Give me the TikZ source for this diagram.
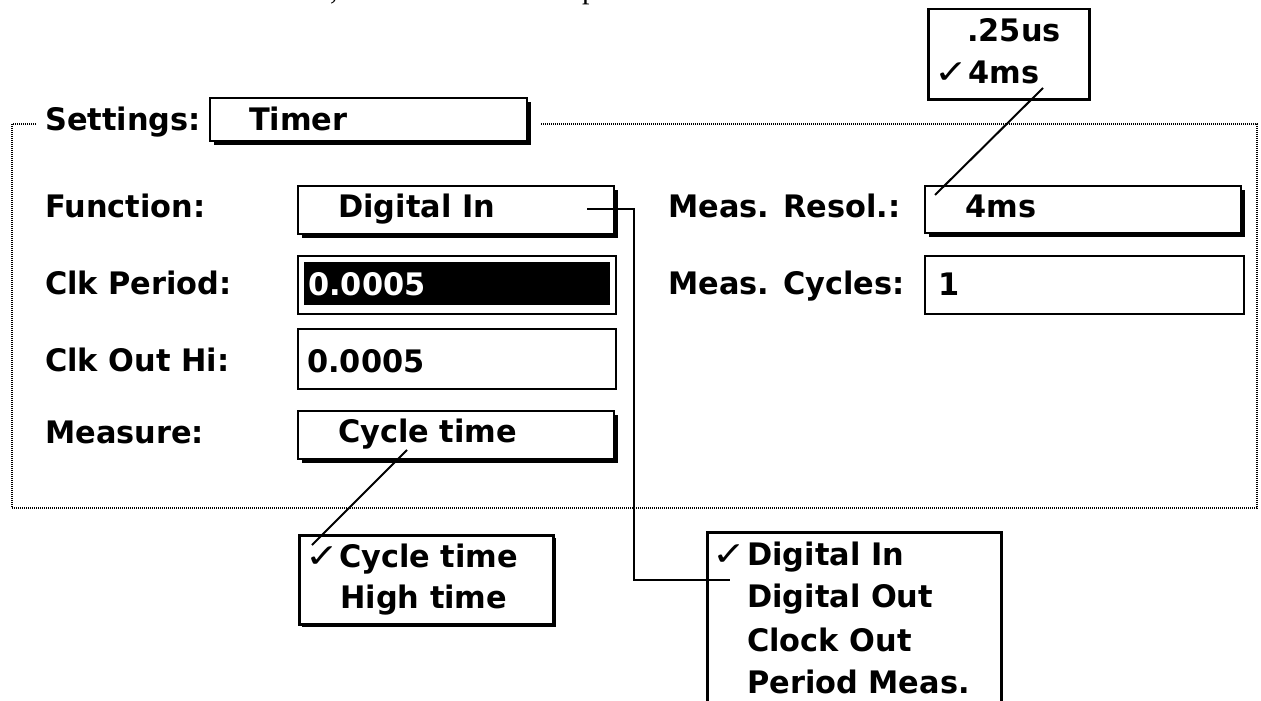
\documentclass[tikz,border=0pt]{standalone}
\usepackage{fontspec}
\usepackage{graphicx}
\usetikzlibrary{shadows}
\newfontfamily\uifont{DejaVu Sans}[FakeStretch=0.98]
\newfontfamily\chkfont{DejaVu Sans}
\newfontfamily\pagefont{Liberation Serif}
\newcommand{\tick}{\scalebox{1.35}[1.1]{✓}}

\begin{document}
\begin{tikzpicture}[x=1pt,y=-1pt,
  lbl/.style={font=\uifont\bfseries\fontsize{31}{36}\selectfont, inner sep=0pt, anchor=base west},
  chk/.style={font=\chkfont\fontsize{30}{34}\selectfont, inner sep=0pt, anchor=base west},
  btn/.style={draw, line width=2pt, fill=white, anchor=north west, inner sep=0pt,
    drop shadow={shadow xshift=3.5pt, shadow yshift=-3.5pt, opacity=1, fill=black}},
  field/.style={draw, line width=2pt, fill=white, anchor=north west, inner sep=0pt},
  menu/.style={draw, line width=2.5pt, fill=white, anchor=north west, inner sep=0pt},
  frame/.style={line width=2pt, dash pattern=on 1pt off 1pt, black},
  wire/.style={line width=2pt},
  ]
\useasboundingbox (0,0) rectangle (1261,701);

% tails of the line of body text above the figure
\node[font=\pagefont\fontsize{30}{36}\selectfont, inner sep=0pt, anchor=base west] (tailA) at (330,0) {,};
\node[font=\pagefont\fontsize{30}{36}\selectfont, inner sep=0pt, anchor=base west] (tailB) at (582,-1) {p};

% dotted group frame, open where the title sits
\draw[frame] (36,124) -- (12,124) -- (12,508) -- (1257,508) -- (1257,124) -- (540,124);

% group title
\node[lbl] (settings) at (45,130) {Settings:};
\node[btn, minimum width=317pt, minimum height=43pt] (timerbox) at (209,97) {};
\node[lbl] (timertxt) at (249,130) {Timer};

% left column
\node[lbl] (fnlbl) at (45,217) {Function:};
\node[btn, minimum width=316pt, minimum height=48pt] (fnbox) at (297,185) {};
\node[lbl] (fntxt) at (338,217) {Digital In};

\node[lbl] (cplbl) at (45,294) {Clk Period:};
\node[field, minimum width=318pt, minimum height=58pt] (cpbox) at (297,255) {};
\node[fill=black, anchor=north west, inner sep=0pt, minimum width=306pt, minimum height=43pt] (cpsel) at (304,262) {};
\node[lbl, text=white] (cptxt) at (308,295) {0.0005};

\node[lbl] (chlbl) at (45,371) {Clk Out Hi:};
\node[field, minimum width=318pt, minimum height=60pt] (chbox) at (297,328) {};
\node[lbl] (chtxt) at (307,372) {0.0005};

\node[lbl] (mslbl) at (45,443) {Measure:};
\node[btn, minimum width=316pt, minimum height=48pt] (msbox) at (297,410) {};
\node[lbl] (mstxt) at (338,442) {Cycle time};

% right column
\node[lbl] (rslbl) at (668,217) {Meas. Resol.:};
\node[btn, minimum width=316pt, minimum height=47pt] (rsbox) at (924,185) {};
\node[lbl] (rstxt) at (965,217) {4ms};

\node[lbl] (cylbl) at (668,294) {Meas. Cycles:};
\node[field, minimum width=319pt, minimum height=58pt] (cybox) at (924,255) {};
\node[lbl] (cytxt) at (938,295) {1};

% pop-up menus
\node[menu, minimum width=161pt, minimum height=90pt] (rsmenu) at (927,8) {};
\node[lbl] (rsitemA) at (967,42) {.25us};
\node[chk] (rscheck) at (934,83) {\tick};
\node[lbl] (rsitemB) at (968,83) {4ms};

\node[menu, minimum width=254pt, minimum height=89pt,
  drop shadow={shadow xshift=2.5pt, shadow yshift=-2.5pt, opacity=1, fill=black}] (msmenu) at (298,534) {};
\node[chk] (mscheck) at (305,567) {\tick};
\node[lbl] (msitemA) at (339,567) {Cycle time};
\node[lbl] (msitemB) at (340,608) {High time};

\node[menu, minimum width=294pt, minimum height=200pt] (fnmenu) at (706,531) {};
\node[chk] (fncheck) at (712,565) {\tick};
\node[lbl] (fnitemA) at (747,565) {Digital In};
\node[lbl] (fnitemB) at (747,607) {Digital Out};
\node[lbl] (fnitemC) at (747,651) {Clock Out};
\node[lbl] (fnitemD) at (747,693) {Period Meas.};

% callout lines from each button to its menu
\coordinate (fnstub) at (587,209);
\coordinate (fnmark) at (730,580);
\draw[wire] (fnstub) -- ++(47,0) |- (fnmark);

\coordinate (rsstub) at (935,195);
\coordinate (rsmark) at (1043,88);
\draw[wire] (rsstub) -- (rsmark);

\coordinate (msstub) at (407,450);
\coordinate (msmark) at (312,545);
\draw[wire] (msstub) -- (msmark);
\end{tikzpicture}
\end{document}
